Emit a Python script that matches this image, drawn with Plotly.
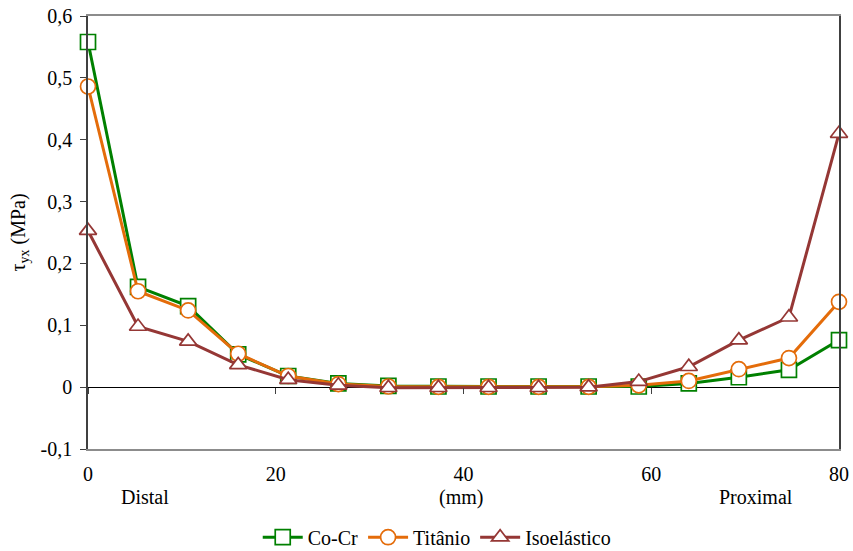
import plotly.graph_objects as go

x_mm = [0, 5.33, 10.67, 16, 21.33, 26.67, 32, 37.33, 42.67, 48, 53.33, 58.67, 64, 69.33, 74.67, 80]
cocr = [0.558, 0.162, 0.131, 0.053, 0.018, 0.006, 0.002, 0.001, 0.001, 0.001, 0.001, 0.001, 0.006, 0.016, 0.028, 0.076]
titanio = [0.486, 0.155, 0.124, 0.054, 0.018, 0.005, 0.001, 0.0005, 0.0005, 0.0005, 0.0005, 0.003, 0.010, 0.029, 0.047, 0.138]
isoelastico = [0.253, 0.098, 0.074, 0.036, 0.012, 0.003, -0.001, -0.001, -0.001, -0.001, 0.000, 0.009, 0.033, 0.076, 0.113, 0.410]

series_names = ["Co-Cr", "Titânio", "Isoelástico"]
series_colors = ["#008000", "#E46C0A", "#953735"]
series_symbols = ["square", "circle", "triangle-up"]

y_tickvals = [-0.1, 0, 0.1, 0.2, 0.3, 0.4, 0.5, 0.6]
y_ticktext = ["-0,1", "0", "0,1", "0,2", "0,3", "0,4", "0,5", "0,6"]
x_tickvals = [0, 20, 40, 60, 80]

FONT = "Liberation Serif"
FS = 20

fig = go.Figure()
for name, vals, col, sym in zip(series_names, [cocr, titanio, isoelastico], series_colors, series_symbols):
    fig.add_trace(go.Scatter(
        x=x_mm, y=vals, name=name, mode="lines+markers",
        line=dict(color=col, width=3),
        marker=dict(symbol=sym, size=15, color="white",
                    line=dict(color=col, width=1.7)),
        cliponaxis=False,
    ))

fig.update_layout(
    template="none",
    width=853, height=551,
    margin=dict(l=88, r=14, t=16, b=102),
    paper_bgcolor="white", plot_bgcolor="white",
    font=dict(family=FONT, size=FS, color="black"),
    showlegend=True,
    legend=dict(orientation="h", x=0.512, xanchor="center", xref="container",
                y=0.025, yanchor="middle", yref="container",
                font=dict(family=FONT, size=FS), tracegroupgap=0,
                itemwidth=40),
    xaxis=dict(range=[0, 80], tickvals=x_tickvals, ticks="", showgrid=False,
               zeroline=False, showline=True, linecolor="#8c8c8c", linewidth=1.5,
               mirror=True, tickfont=dict(family=FONT, size=FS), ticklabelstandoff=6),
    xaxis2=dict(range=[0, 80], overlaying="x", anchor="free", position=0.1/0.7,
                tickvals=x_tickvals, ticks="outside", ticklen=6, tickwidth=1,
                tickcolor="#404040", showticklabels=False, showline=False,
                showgrid=False, zeroline=False),
    yaxis=dict(range=[-0.1, 0.6], tickvals=y_tickvals, ticktext=y_ticktext,
               ticks="outside", ticklen=6, tickcolor="#404040", showgrid=False,
               zeroline=True, zerolinecolor="black", zerolinewidth=1,
               showline=True, linecolor="#404040", linewidth=1.5, mirror=True,
               tickfont=dict(family=FONT, size=FS), ticklabelstandoff=4,
               title=dict(text="τ<sub>yx</sub> (MPa)", font=dict(family=FONT, size=FS), standoff=10)),
)

# invisible trace to activate xaxis2
fig.add_trace(go.Scatter(x=[0, 80], y=[None, None], xaxis="x2", showlegend=False, hoverinfo="skip"))

for txt, xv in [("Distal", 6.1), ("(mm)", 39.7), ("Proximal", 71.2)]:
    fig.add_annotation(text=txt, x=xv, xref="x", y=-0.08, yref="paper", yanchor="top",
                       showarrow=False, font=dict(family=FONT, size=FS))

fig.write_html("out.html")
